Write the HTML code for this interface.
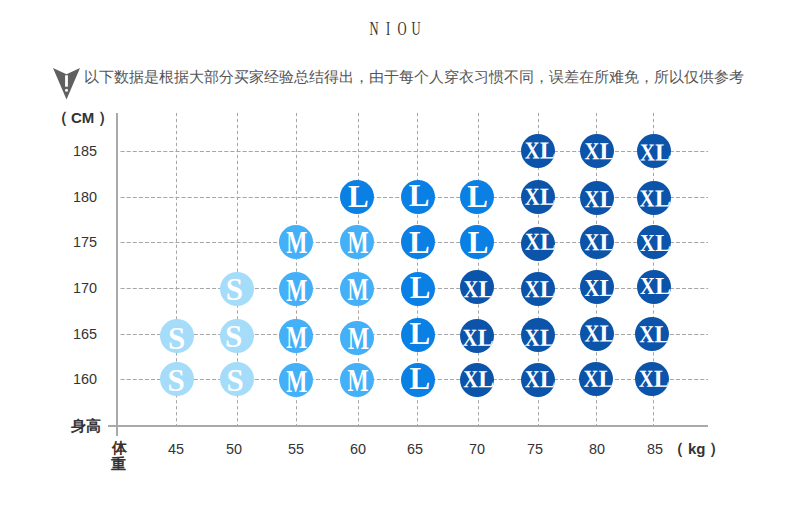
<!DOCTYPE html>
<html><head><meta charset="utf-8"><style>
html,body{margin:0;padding:0;background:#fff;width:790px;height:516px;overflow:hidden;position:relative;font-family:"Liberation Sans",sans-serif}
.a{position:absolute;white-space:nowrap}
svg{position:absolute;left:0;top:0}
.v{stroke:#a6a6a6;stroke-width:1;stroke-dasharray:3.3 2.684}
.h{stroke:#a6a6a6;stroke-width:1;stroke-dasharray:4.1 2.003}
.c{position:absolute;width:34px;height:34px;border-radius:50%;overflow:hidden;font-family:"Liberation Serif",serif;font-weight:bold;color:#fff}
.c span{position:absolute;left:-20px;width:74px;top:0;height:34px;line-height:34px;text-align:center;transform-origin:37px 17px}
.c i{font-style:normal;display:inline-block;transform:scaleX(0.84);transform-origin:100% 50%;margin-left:-1.6px}
.S{background:#a5dcfa}
.M{background:#44b0f8}
.L{background:#0a80e4}
.XL{background:#0b54aa}
.nt{top:16.7px;width:40px;text-align:center;font-family:'Liberation Serif',serif;font-size:18.5px;line-height:24px;color:#333;transform:scaleX(0.68)}
.ylab{font-size:15.5px;line-height:20px;color:#333;width:40px;text-align:right;transform:scaleX(0.93);transform-origin:100% 50%}
.xlab{font-size:15.5px;line-height:20px;color:#333;width:40px;text-align:center;transform:scaleX(0.93)}
.sent{font-size:15px;line-height:20px;color:#555}
.par{font-size:15.5px;line-height:20px;color:#333;font-weight:bold}
.bl{font-size:15px;line-height:20px;font-weight:bold;color:#333}
</style></head><body>
<div class="a nt" style="left:354.4px">N</div><div class="a nt" style="left:368.2px">I</div><div class="a nt" style="left:382.1px">O</div><div class="a nt" style="left:395.8px">U</div>
<svg width="790" height="516" viewBox="0 0 790 516">
<polygon points="53,68 66.5,74.3 80,68 66.5,99.5" fill="#606060"/>
<rect x="65.1" y="75.3" width="2.8" height="11.4" fill="#fff"/>
<circle cx="66.5" cy="90.3" r="1.5" fill="#fff"/>
<line x1="176.5" y1="112.9" x2="176.5" y2="425" class="v"/><line x1="237.5" y1="112.9" x2="237.5" y2="425" class="v"/><line x1="296.5" y1="112.9" x2="296.5" y2="425" class="v"/><line x1="358.5" y1="112.9" x2="358.5" y2="425" class="v"/><line x1="417.5" y1="112.9" x2="417.5" y2="425" class="v"/><line x1="478.5" y1="112.9" x2="478.5" y2="425" class="v"/><line x1="538.5" y1="112.9" x2="538.5" y2="425" class="v"/><line x1="596.5" y1="112.9" x2="596.5" y2="425" class="v"/><line x1="653.5" y1="112.9" x2="653.5" y2="425" class="v"/><line x1="120.5" y1="151.5" x2="708" y2="151.5" class="h"/><line x1="120.5" y1="197.5" x2="708" y2="197.5" class="h"/><line x1="120.5" y1="242.5" x2="708" y2="242.5" class="h"/><line x1="120.5" y1="288.5" x2="708" y2="288.5" class="h"/><line x1="120.5" y1="334.5" x2="708" y2="334.5" class="h"/><line x1="120.5" y1="379.5" x2="708" y2="379.5" class="h"/>
<rect x="116" y="113" width="2" height="323" fill="#a9a9a9"/>
<rect x="108" y="425" width="600" height="2" fill="#a9a9a9"/>
</svg>
<div class="a sent" style="left:84.00px;top:67.25px;">以下数据是根据大部分买家经验总结得出，由于每个人穿衣习惯不同，误差在所难免，所以仅供参考</div><div class="a par" style="left:51.50px;top:107.50px;">（</div><div class="a bl" style="left:71.00px;top:107.50px;">CM</div><div class="a par" style="left:97.70px;top:107.50px;">）</div><div class="a ylab" style="left:56.50px;top:141.00px;">185</div><div class="a ylab" style="left:56.50px;top:187.00px;">180</div><div class="a ylab" style="left:56.50px;top:232.00px;">175</div><div class="a ylab" style="left:56.50px;top:278.00px;">170</div><div class="a ylab" style="left:56.50px;top:324.00px;">165</div><div class="a ylab" style="left:56.50px;top:369.00px;">160</div><div class="a bl" style="left:71.00px;top:416.25px;">身高</div><div class="a bl" style="left:112.00px;top:438.00px;">体</div><div class="a bl" style="left:111.00px;top:453.50px;">重</div><div class="a xlab" style="left:156.20px;top:439.00px;">45</div><div class="a xlab" style="left:214.10px;top:439.00px;">50</div><div class="a xlab" style="left:275.70px;top:439.00px;">55</div><div class="a xlab" style="left:338.00px;top:439.00px;">60</div><div class="a xlab" style="left:395.00px;top:439.00px;">65</div><div class="a xlab" style="left:457.40px;top:439.00px;">70</div><div class="a xlab" style="left:515.00px;top:439.00px;">75</div><div class="a xlab" style="left:576.80px;top:439.00px;">80</div><div class="a xlab" style="left:634.80px;top:439.00px;">85</div><div class="a par" style="left:668.00px;top:438.60px;">（</div><div class="a bl" style="left:688.00px;top:438.50px;">kg</div><div class="a par" style="left:708.90px;top:438.60px;">）</div>

<div class="c XL" style="left:521.00px;top:134.00px"><span style="font-size:24.5px;transform:translate(2.00px,-0.50px) rotate(0.1deg)"><i>X</i>L</span></div><div class="c XL" style="left:580.10px;top:133.70px"><span style="font-size:24.5px;transform:translate(2.70px,0.30px) rotate(0.1deg)"><i>X</i>L</span></div><div class="c XL" style="left:637.10px;top:133.70px"><span style="font-size:24.5px;transform:translate(1.20px,1.50px) rotate(0.1deg)"><i>X</i>L</span></div><div class="c L" style="left:340.10px;top:179.60px"><span style="font-size:31px;transform:translate(1.13px,0.40px)">L</span></div><div class="c L" style="left:401.00px;top:180.00px"><span style="font-size:31px;transform:translate(1.08px,-0.75px)">L</span></div><div class="c L" style="left:460.30px;top:180.00px"><span style="font-size:31px;transform:translate(0.38px,-0.50px)">L</span></div><div class="c XL" style="left:521.00px;top:180.00px"><span style="font-size:24.5px;transform:translate(2.00px,-0.20px) rotate(0.1deg)"><i>X</i>L</span></div><div class="c XL" style="left:580.10px;top:181.30px"><span style="font-size:24.5px;transform:translate(2.70px,1.25px) rotate(0.1deg)"><i>X</i>L</span></div><div class="c XL" style="left:637.10px;top:180.80px"><span style="font-size:24.5px;transform:translate(0.80px,0.50px) rotate(0.1deg)"><i>X</i>L</span></div><div class="c M" style="left:279.00px;top:225.00px"><span style="font-size:31px;transform:translate(0.78px,1.45px) scale(0.72,1)">M</span></div><div class="c M" style="left:340.00px;top:225.00px"><span style="font-size:31px;transform:translate(1.08px,1.20px) scale(0.72,1)">M</span></div><div class="c L" style="left:401.00px;top:225.00px"><span style="font-size:31px;transform:translate(1.38px,1.10px)">L</span></div><div class="c L" style="left:460.30px;top:225.00px"><span style="font-size:31px;transform:translate(0.78px,0.90px)">L</span></div><div class="c XL" style="left:520.90px;top:226.90px"><span style="font-size:24.5px;transform:translate(2.20px,-2.30px) rotate(0.1deg)"><i>X</i>L</span></div><div class="c XL" style="left:580.10px;top:224.80px"><span style="font-size:24.5px;transform:translate(2.70px,0.25px) rotate(0.1deg)"><i>X</i>L</span></div><div class="c XL" style="left:637.10px;top:224.80px"><span style="font-size:24.5px;transform:translate(1.20px,1.10px) rotate(0.1deg)"><i>X</i>L</span></div><div class="c S" style="left:219.80px;top:271.80px"><span style="font-size:31px;transform:translate(-2.45px,0.20px) scale(1,1.03)">S</span></div><div class="c M" style="left:279.00px;top:271.90px"><span style="font-size:31px;transform:translate(0.83px,1.50px) scale(0.72,1)">M</span></div><div class="c M" style="left:340.00px;top:271.50px"><span style="font-size:31px;transform:translate(1.08px,1.20px) scale(0.72,1)">M</span></div><div class="c L" style="left:401.00px;top:271.80px"><span style="font-size:31px;transform:translate(1.98px,-1.00px)">L</span></div><div class="c XL" style="left:460.00px;top:269.80px"><span style="font-size:24.5px;transform:translate(1.60px,2.30px) rotate(0.1deg)"><i>X</i>L</span></div><div class="c XL" style="left:521.00px;top:272.00px"><span style="font-size:24.5px;transform:translate(2.00px,0.30px) rotate(0.1deg)"><i>X</i>L</span></div><div class="c XL" style="left:580.10px;top:269.70px"><span style="font-size:24.5px;transform:translate(2.70px,1.10px) rotate(0.1deg)"><i>X</i>L</span></div><div class="c XL" style="left:637.10px;top:270.00px"><span style="font-size:24.5px;transform:translate(1.20px,-0.95px) rotate(0.1deg)"><i>X</i>L</span></div><div class="c S" style="left:159.80px;top:319.20px"><span style="font-size:31px;transform:translate(-0.25px,2.50px) scale(1,1.03)">S</span></div><div class="c S" style="left:220.20px;top:319.20px"><span style="font-size:31px;transform:translate(-3.55px,0.30px) scale(1,1.03)">S</span></div><div class="c M" style="left:279.00px;top:319.00px"><span style="font-size:31px;transform:translate(0.83px,1.60px) scale(0.72,1)">M</span></div><div class="c M" style="left:339.80px;top:320.60px"><span style="font-size:31px;transform:translate(1.48px,0.90px) scale(0.72,1)">M</span></div><div class="c L" style="left:401.00px;top:317.80px"><span style="font-size:31px;transform:translate(1.88px,-1.00px)">L</span></div><div class="c XL" style="left:460.00px;top:319.00px"><span style="font-size:24.5px;transform:translate(0.60px,1.80px) rotate(0.1deg)"><i>X</i>L</span></div><div class="c XL" style="left:520.80px;top:318.00px"><span style="font-size:24.5px;transform:translate(2.00px,2.80px) rotate(0.1deg)"><i>X</i>L</span></div><div class="c XL" style="left:580.00px;top:317.00px"><span style="font-size:24.5px;transform:translate(2.60px,-0.50px) rotate(0.1deg)"><i>X</i>L</span></div><div class="c XL" style="left:635.00px;top:317.20px"><span style="font-size:24.5px;transform:translate(2.50px,0.20px) rotate(0.1deg)"><i>X</i>L</span></div><div class="c S" style="left:160.00px;top:362.10px"><span style="font-size:31px;transform:translate(-0.90px,1.85px) scale(1,1.03)">S</span></div><div class="c S" style="left:220.40px;top:362.00px"><span style="font-size:31px;transform:translate(-2.20px,1.95px) scale(1,1.03)">S</span></div><div class="c M" style="left:279.00px;top:363.00px"><span style="font-size:31px;transform:translate(0.83px,1.50px) scale(0.72,1)">M</span></div><div class="c M" style="left:339.80px;top:362.80px"><span style="font-size:31px;transform:translate(1.08px,1.00px) scale(0.72,1)">M</span></div><div class="c L" style="left:401.00px;top:362.80px"><span style="font-size:31px;transform:translate(1.88px,-1.00px)">L</span></div><div class="c XL" style="left:460.00px;top:362.50px"><span style="font-size:24.5px;transform:translate(1.50px,-0.70px) rotate(0.1deg)"><i>X</i>L</span></div><div class="c XL" style="left:520.80px;top:362.50px"><span style="font-size:24.5px;transform:translate(2.00px,-0.70px) rotate(0.1deg)"><i>X</i>L</span></div><div class="c XL" style="left:579.00px;top:362.00px"><span style="font-size:24.5px;transform:translate(2.60px,-0.20px) rotate(0.1deg)"><i>X</i>L</span></div><div class="c XL" style="left:635.00px;top:361.90px"><span style="font-size:24.5px;transform:translate(2.00px,-0.20px) rotate(0.1deg)"><i>X</i>L</span></div>
</body></html>
